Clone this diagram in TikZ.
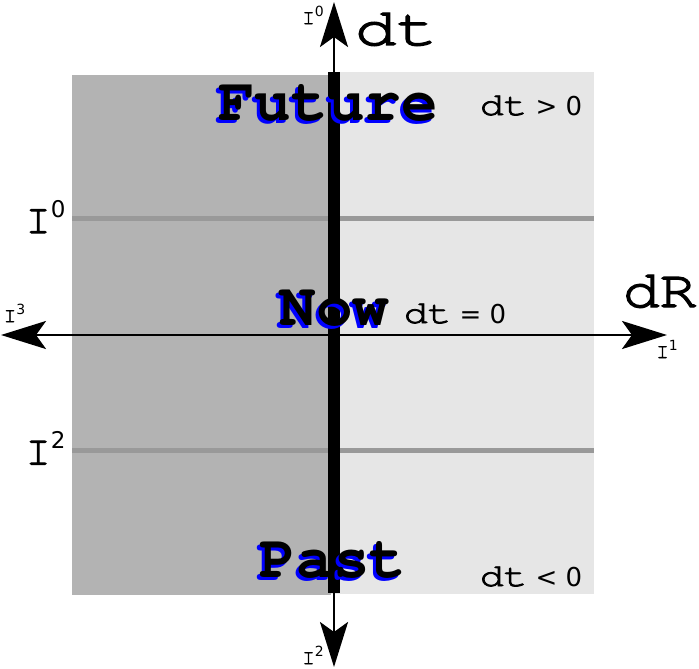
\documentclass[tikz,border=0pt]{standalone}
\usepackage{fontspec}
\usepackage{graphicx}
\setmonofont{texgyrecursor}[Extension=.otf,UprightFont=*-regular,BoldFont=*-bold]
\newfontfamily\labmono{texgyrecursor}[Extension=.otf,UprightFont=*-regular,FakeBold=2.5]
\newfontfamily\supfont{DejaVu Sans}
\usetikzlibrary{arrows.meta}
\definecolor{pastgray}{RGB}{179,179,179}
\definecolor{futuregray}{RGB}{230,230,230}
\definecolor{slicegray}{RGB}{153,153,153}
\definecolor{shadowblue}{RGB}{0,0,255}
% I with a sans superscript: index, size of I, size of index
\newcommand{\Ilab}[3]{{\fontsize{#2}{#2}\labmono I}\raisebox{0.38\dimexpr #2pt\relax}{\fontsize{#3}{#3}\supfont #1}}
% dt followed by a relation in sans
\newcommand{\dtrel}[1]{{\labmono\scalebox{1.23}[1]{dt}}{\supfont\fontsize{26}{26}\selectfont\ #1}}

\begin{document}
\begin{tikzpicture}[x=1pt,y=-1pt,
  every node/.style={inner sep=0pt,outer sep=0pt},
  axisarrow/.style={-{Stealth[length=45pt,width=28pt,inset=10pt]},line width=2.6pt},
  slice/.style={slicegray,line width=5pt},
  eventword/.style={font=\fontsize{61}{61}\ttfamily\bfseries,anchor=base},
  dtword/.style={font=\fontsize{32}{32}\selectfont,anchor=base west},
  axisword/.style={font=\fontsize{53}{53}\labmono,anchor=base west}]
  \useasboundingbox (0,0) rectangle (699,669);
  % two half planes
  \fill[pastgray] (72,75) -- (331,75) -- (331,595) -- (72,595) -- cycle;
  \fill[futuregray] (331,72) -- (594,72) -- (594,594) -- (331,594) -- cycle;
  % constant time slices
  \coordinate (s0w) at (72,218);
  \coordinate (s0e) at (594,218);
  \coordinate (s2w) at (72,450);
  \coordinate (s2e) at (594,450);
  \draw[slice] (s0w) -- (s0e);
  \draw[slice] (s2w) -- (s2e);
  % world line
  \coordinate (wtop) at (334,72);
  \coordinate (wbot) at (334,593);
  \draw[line width=12pt] (wtop) -- (wbot);
  % axes
  \coordinate (origin) at (334,335);
  \coordinate (tplus) at (334,2);
  \coordinate (tminus) at (334,667);
  \coordinate (rplus) at (667,335);
  \coordinate (rminus) at (1,335);
  \draw[axisarrow] (wtop) -- (tplus);
  \draw[axisarrow] (wbot) -- (tminus);
  \draw[axisarrow] (origin) -- (rplus);
  \draw[axisarrow] (origin) -- (rminus);
  % axis labels
  \node[axisword] (dt) at (355,45) {\scalebox{1.3}[1]{dt}};
  \node[axisword] (dR) at (623,307) {\scalebox{1.15}[1]{dR}};
  \node (i0top) at (313,15) {\Ilab{0}{21}{14}};
  \node (i3) at (14.5,313) {\Ilab{3}{21}{14}};
  \node (i1) at (667,349) {\Ilab{1}{21}{14}};
  \node (i2bot) at (313,655) {\Ilab{2}{21}{14}};
  \node (i0left) at (45.5,216.5) {\Ilab{0}{42}{23}};
  \node (i2left) at (45.5,448) {\Ilab{2}{42}{23}};
  % events with shadow
  \foreach \name/\word/\px/\py in {future/Future/328/120, now/Now/334.5/325, past/Past/333/577} {
    \node[eventword,shadowblue] (\name shadow) at (\px-3,\py+3) {\word};
    \node[eventword] (\name) at (\px,\py) {\word};
  }
  % sign of dt
  \node[dtword] (dtpos) at (480,115) {\dtrel{>\ 0}};
  \node[dtword] (dtzero) at (404,323) {\dtrel{=\ 0}};
  \node[dtword] (dtneg) at (480,586) {\dtrel{<\ 0}};
\end{tikzpicture}
\end{document}
